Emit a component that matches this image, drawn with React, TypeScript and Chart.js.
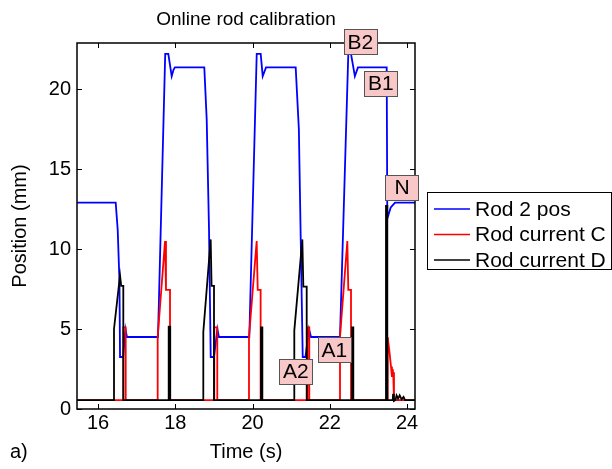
import React, { useEffect, useRef } from "react";
import { Chart, registerables } from "chart.js";

Chart.register(...registerables);

const FONT = '"Liberation Sans", Arial, Helvetica, sans-serif';

const chartTitle = "Online rod calibration";
const xTitle = "Time (s)";
const yTitle = "Position (mm)";
const panelLabel = "a)";

const xTicks = [16, 18, 20, 22, 24];
const yTicks = [0, 5, 10, 15, 20];

const seriesNames = ["Rod 2 pos", "Rod current C", "Rod current D"];
const seriesColors = ["#0000ff", "#ff0000", "#000000"];

// Rod 2 position
const posTime = [15.456, 16.458, 16.51, 16.555, 16.57, 16.65, 16.71, 16.75, 17.553, 17.74, 17.82, 17.908, 17.955, 17.99, 18.752, 18.814, 18.874, 18.918, 19.003, 19.09, 19.13, 19.917, 20.109, 20.212, 20.264, 20.35, 21.118, 21.2, 21.3, 21.37, 21.463, 21.515, 22.265, 22.48, 22.55, 22.65, 22.73, 23.474, 23.49, 23.578, 23.69, 24.207];
const posValue = [12.9, 12.9, 11.2, 8.0, 3.25, 3.25, 5.0, 4.5, 4.5, 22.2, 22.2, 20.8, 21.2, 21.35, 21.35, 18.1, 11.2, 3.25, 3.25, 5.0, 4.5, 4.5, 22.2, 22.2, 20.8, 21.35, 21.35, 17.5, 3.25, 3.25, 5.0, 4.5, 4.5, 22.2, 22.2, 20.8, 21.35, 21.35, 11.9, 12.6, 12.9, 12.9];

// Rod current C
const curCTime = [15.456, 16.655, 16.655, 16.717, 16.717, 17.545, 17.545, 17.735, 17.76, 17.864, 17.864, 19.01, 19.01, 19.088, 19.088, 19.909, 19.909, 20.108, 20.135, 20.21, 20.21, 21.42, 21.42, 21.47, 21.47, 22.265, 22.265, 22.455, 22.48, 22.55, 22.55, 23.49, 23.5, 23.54, 23.586, 23.61, 23.63, 23.645, 23.663, 23.663, 24.207];
const curCValue = [0.55, 0.55, 5.1, 5.1, 0.55, 0.55, 4.5, 10.5, 7.45, 7.45, 0.55, 0.55, 5.1, 5.1, 0.55, 0.55, 4.5, 10.5, 7.45, 7.45, 0.55, 0.55, 5.1, 5.1, 0.55, 0.55, 4.5, 10.5, 7.45, 7.45, 0.55, 0.55, 4.5, 3.7, 2.65, 2.0, 2.5, 2.1, 2.3, 0.55, 0.55];

// Rod current D
const curDTime = [15.456, 16.414, 16.414, 16.57, 16.6, 16.655, 16.655, 17.83, 17.83, 17.87, 17.87, 18.726, 18.726, 18.917, 18.94, 19.003, 19.003, 20.22, 20.22, 20.255, 20.255, 21.082, 21.082, 21.29, 21.316, 21.403, 21.403, 22.575, 22.575, 22.61, 22.61, 23.456, 23.456, 23.49, 23.49, 23.63, 23.64, 23.66, 23.7, 23.73, 23.77, 23.81, 23.86, 23.91, 23.95, 24.207];
const curDValue = [0.55, 0.55, 5.0, 8.35, 7.7, 7.7, 0.55, 0.55, 5.15, 5.15, 0.55, 0.55, 4.8, 10.6, 7.7, 7.7, 0.55, 0.55, 5.1, 5.1, 0.55, 0.55, 4.9, 10.6, 7.65, 7.65, 0.55, 0.55, 5.1, 5.1, 0.55, 0.55, 12.7, 12.7, 0.55, 0.55, 0.95, 0.5, 0.55, 0.85, 0.65, 0.85, 0.6, 0.75, 0.55, 0.55];

// Annotation labels (box centres, in data units)
const annoLabels = ["B2", "B1", "N", "A1", "A2"];
const annoTime = [22.79, 23.32, 23.87, 22.12, 21.12];
const annoValue = [22.94, 20.375, 13.875, 3.69, 2.375];

const toPoints = (t: number[], v: number[]) => t.map((x, i) => ({ x, y: v[i] }));

const framePlugin = {
  id: "frame",
  afterDatasetsDraw(chart: any) {
    const { ctx, chartArea: a, scales } = chart;
    const xs = scales.x;
    const ys = scales.y;
    ctx.save();
    // axes box
    ctx.strokeStyle = "#000";
    ctx.lineWidth = 1.5;
    const L = Math.round(a.left), R = Math.round(a.right), T = Math.round(a.top), B = Math.round(a.bottom);
    ctx.strokeRect(L, T, R - L, B - T);
    ctx.beginPath();
    const tl = 5;
    xTicks.forEach((v) => {
      const px = Math.round(xs.getPixelForValue(v)) + 0.5;
      ctx.moveTo(px, B); ctx.lineTo(px, B - tl);
      ctx.moveTo(px, T); ctx.lineTo(px, T + tl);
    });
    yTicks.forEach((v) => {
      const py = Math.round(ys.getPixelForValue(v)) + 0.5;
      ctx.moveTo(L, py); ctx.lineTo(L + tl, py);
      ctx.moveTo(R, py); ctx.lineTo(R - tl, py);
    });
    ctx.lineWidth = 1;
    ctx.stroke();

    // annotation boxes
    ctx.font = `21px ${FONT}`;
    ctx.textAlign = "center";
    ctx.textBaseline = "middle";
    annoLabels.forEach((lab, i) => {
      const cx = xs.getPixelForValue(annoTime[i]);
      const cy = ys.getPixelForValue(annoValue[i]);
      const w = 33;
      const h = 25;
      const x0 = Math.round(cx - w / 2) + 0.5;
      const y0 = Math.round(cy - h / 2) + 0.5;
      ctx.fillStyle = "#f8c8c8";
      ctx.fillRect(x0, y0, w, h);
      ctx.strokeStyle = "#555";
      ctx.lineWidth = 1;
      ctx.strokeRect(x0, y0, w, h);
      ctx.fillStyle = "#000";
      ctx.fillText(lab, cx, cy + 1);
    });

    // legend
    const lx = 427.5, ly = 192.5, lw = 184, lh = 77;
    ctx.fillStyle = "#fff";
    ctx.fillRect(lx, ly, lw, lh);
    ctx.strokeStyle = "#000";
    ctx.lineWidth = 1;
    ctx.strokeRect(lx, ly, lw, lh);
    ctx.textAlign = "left";
    seriesNames.forEach((name, i) => {
      const y = 209 + i * 25.5;
      ctx.strokeStyle = seriesColors[i];
      ctx.lineWidth = 1.5;
      ctx.beginPath();
      ctx.moveTo(434, y);
      ctx.lineTo(470, y);
      ctx.stroke();
      ctx.fillStyle = "#000";
      ctx.fillText(name, 475, y + 1);
    });

    // panel label
    ctx.font = `20px ${FONT}`;
    ctx.fillText(panelLabel, 10, 452);
    ctx.restore();
  },
};

export default function App() {
  const ref = useRef<HTMLCanvasElement | null>(null);
  useEffect(() => {
    if (!ref.current) return;
    Chart.defaults.font.family = FONT;
    Chart.defaults.color = "#000";
    const chart = new Chart(ref.current, {
      type: "line",
      data: {
        datasets: [
          { label: seriesNames[0], data: toPoints(posTime, posValue), borderColor: seriesColors[0], borderWidth: 1.8, pointRadius: 0, tension: 0, order: 3 },
          { label: seriesNames[1], data: toPoints(curCTime, curCValue), borderColor: seriesColors[1], borderWidth: 1.8, pointRadius: 0, tension: 0, order: 2 },
          { label: seriesNames[2], data: toPoints(curDTime, curDValue), borderColor: seriesColors[2], borderWidth: 1.8, pointRadius: 0, tension: 0, order: 1 },
        ],
      },
      options: {
        responsive: false,
        maintainAspectRatio: false,
        animation: false,
        devicePixelRatio: 1,
        layout: { padding: { left: 0, top: 0, right: 197, bottom: 0 } },
        plugins: {
          legend: { display: false },
          tooltip: { enabled: false },
          title: {
            display: true,
            text: chartTitle,
            color: "#000",
            font: { family: FONT, size: 19, weight: "normal" },
            padding: { top: 8.6, bottom: 11.6 },
            fullSize: false,
          },
        },
        scales: {
          x: {
            type: "linear",
            min: 15.456,
            max: 24.207,
            afterBuildTicks: (s: any) => { s.ticks = xTicks.map((v) => ({ value: v })); },
            afterFit: (s: any) => { s.height = 60; },
            ticks: { color: "#000", font: { family: FONT, size: 20 }, padding: 2.5, maxRotation: 0, autoSkip: false },
            grid: { display: false, drawTicks: false },
            border: { display: false },
            title: { display: true, text: xTitle, color: "#000", font: { family: FONT, size: 20 }, padding: { top: 0, bottom: 5 } },
          },
          y: {
            type: "linear",
            min: 0,
            max: 22.875,
            afterBuildTicks: (s: any) => { s.ticks = yTicks.map((v) => ({ value: v })); },
            afterFit: (s: any) => { s.width = 77; },
            ticks: { color: "#000", font: { family: FONT, size: 20 }, padding: 6, autoSkip: false },
            grid: { display: false, drawTicks: false },
            border: { display: false },
            title: { display: true, text: yTitle, color: "#000", font: { family: FONT, size: 20 }, padding: { top: 8, bottom: 0 } },
          },
        },
      } as any,
      plugins: [framePlugin],
    });
    return () => chart.destroy();
  }, []);
  return (
    <div style={{ position: "fixed", left: 0, top: 0, width: 612, height: 469, background: "#fff" }}>
      <canvas ref={ref} width={612} height={469} style={{ display: "block" }} />
    </div>
  );
}
